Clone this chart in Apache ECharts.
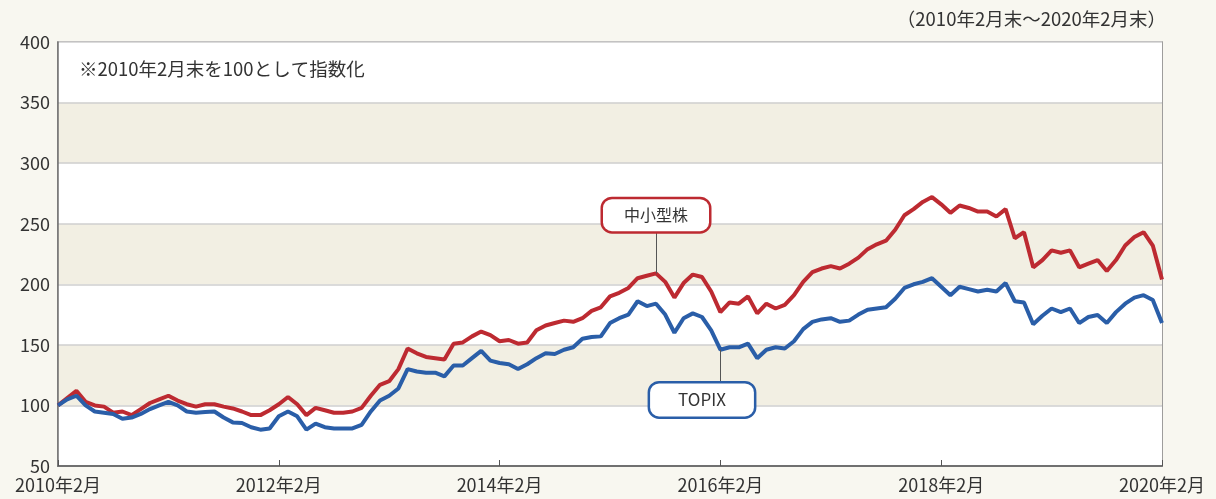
<!DOCTYPE html>
<html>
<head>
<meta charset="utf-8">
<script src="https://cdn.jsdelivr.net/npm/echarts@6/dist/echarts.min.js"></script>
<style>
html, body { margin: 0; padding: 0; background: #f8f7f0; }
#chart { width: 1216px; height: 499px; }
</style>
</head>
<body>
<div id="chart"></div>
<script>
// 月末値 2010年2月〜2020年2月 (121点)
const smallMid = [
  100, 106, 112, 103, 100, 99, 94, 95, 92, 97, 102, 105,
  108, 104, 101, 99, 101, 101, 99, 97.5, 95, 92, 92, 96,
  101, 107, 101, 92, 98, 96, 94, 94, 95, 98, 108, 117,
  120, 130, 147, 143, 140, 139, 138, 151, 152, 157, 161, 158,
  153, 154, 151, 152, 162, 166, 168, 170, 169, 172, 178, 181,
  190, 193, 197, 205, 207, 209, 202, 189, 201, 208, 206, 194,
  177, 185, 184, 190, 176, 184, 180, 183, 191, 202, 210, 213,
  215, 213, 217, 222, 229, 233, 236, 245, 257, 262, 268, 272,
  266, 259, 265, 263, 260, 260, 256, 262, 238, 243, 214, 220,
  228, 226, 228, 214, 217, 220, 211, 220, 232, 239, 243, 232,
  204
];
const topix = [
  100, 105, 108, 100, 95, 94, 93, 89, 90, 93, 97, 100,
  103, 100, 95, 94, 94.5, 95, 90, 86, 85.5, 82, 80, 81,
  91, 95, 91, 80, 85, 82, 81, 81, 81, 84, 95, 104,
  108, 114, 130, 128, 127, 127, 124, 133, 133, 139, 145, 137,
  135, 134, 130, 134, 139, 143, 142.5, 146, 148, 155, 156.5, 157,
  168, 172, 175, 186, 182, 184, 175, 160, 172, 176, 173, 162,
  146, 148, 148, 151, 139, 146, 148, 147, 153, 163, 169, 171,
  172, 169, 170, 175, 179, 180, 181, 188, 197, 200, 202, 205,
  198, 191, 198, 196, 194, 195.5, 194, 201, 186, 185, 167, 174,
  180, 177, 180, 168, 173, 174.6, 168, 177, 184, 189, 191, 187,
  168
];
const tickLabels = ['2010年2月', '2012年2月', '2014年2月', '2016年2月', '2018年2月', '2020年2月'];

const months = [];
for (let i = 0; i < smallMid.length; i++) {
  const y = 2010 + Math.floor((i + 1) / 12);
  const m = (i + 1) % 12 + 1;
  months.push(y + '年' + m + '月');
}

const font = '"Noto Sans CJK JP", "Noto Sans", sans-serif';
const textColor = '#333333';

const chart = echarts.init(document.getElementById('chart'));

const option = {
  backgroundColor: '#f8f7f0',
  animation: false,
  textStyle: { fontFamily: font },
  grid: {
    left: 58, right: 54, top: 42, bottom: 33,
    show: true, borderColor: '#808080', borderWidth: 1.5,
    backgroundColor: '#ffffff'
  },
  graphic: [
    {
      type: 'text', right: 50, top: 10, z: 100,
      style: { text: '（2010年2月末～2020年2月末）', fill: textColor, font: '18.5px ' + font }
    },
    {
      type: 'text', left: 79, top: 60, z: 100,
      style: { text: '※2010年2月末を100として指数化', fill: textColor, font: '18.5px ' + font }
    }
  ],
  xAxis: {
    type: 'category',
    data: months,
    boundaryGap: false,
    axisLine: { lineStyle: { color: '#707070', width: 2 } },
    axisTick: { inside: true, length: 6, interval: 23, lineStyle: { color: '#555' } },
    axisLabel: {
      interval: 23, color: textColor, fontSize: 18, fontFamily: font, margin: 10,
      formatter: function (v) { return tickLabels.indexOf(v) >= 0 ? v : ''; }
    },
    splitLine: { show: false }
  },
  yAxis: {
    type: 'value',
    min: 50, max: 400, interval: 50,
    axisLine: { show: true, lineStyle: { color: '#707070', width: 1.5 } },
    axisTick: { show: false },
    axisLabel: { color: textColor, fontSize: 18, fontFamily: font, margin: 8 },
    splitLine: { lineStyle: { color: '#cfcfcf', width: 1.5 } },
    splitArea: { show: true, areaStyle: { color: ['#ffffff', '#f2efe3'] } }
  },
  series: [
    {
      name: '中小型株',
      type: 'line',
      data: smallMid,
      symbol: 'none',
      z: 3,
      lineStyle: { color: '#bd2a31', width: 4 },
      itemStyle: { color: '#bd2a31' },
      markLine: {
        silent: true, symbol: ['none', 'none'], label: { show: false },
        lineStyle: { color: '#555', width: 1, type: 'solid' },
        data: [[{ coord: [65, 209] }, { coord: [65, 243] }]]
      },
      markPoint: {
        silent: true, symbol: 'circle', symbolSize: 0,
        label: {
          show: true, position: 'inside', formatter: '中小型株',
          color: textColor, fontSize: 16, fontFamily: font, lineHeight: 18,
          backgroundColor: '#ffffff', borderColor: '#bd2a31', borderWidth: 2.5,
          borderRadius: 9, padding: [7, 21]
        },
        data: [{ coord: [65, 257] }]
      }
    },
    {
      name: 'TOPIX',
      type: 'line',
      data: topix,
      symbol: 'none',
      z: 3,
      lineStyle: { color: '#2a5ea8', width: 4 },
      itemStyle: { color: '#2a5ea8' },
      markLine: {
        silent: true, symbol: ['none', 'none'], label: { show: false },
        lineStyle: { color: '#555', width: 1, type: 'solid' },
        data: [[{ coord: [72, 146] }, { coord: [72, 119] }]]
      },
      markPoint: {
        silent: true, symbol: 'circle', symbolSize: 0,
        label: {
          show: true, position: 'inside', formatter: 'TOPIX',
          color: textColor, fontSize: 17, fontFamily: font, lineHeight: 19,
          backgroundColor: '#ffffff', borderColor: '#2a5ea8', borderWidth: 2.5,
          borderRadius: 9, padding: [7, 28]
        },
        data: [{ coord: [70, 104.5] }]
      }
    }
  ]
};

chart.setOption(option);
</script>
</body>
</html>
